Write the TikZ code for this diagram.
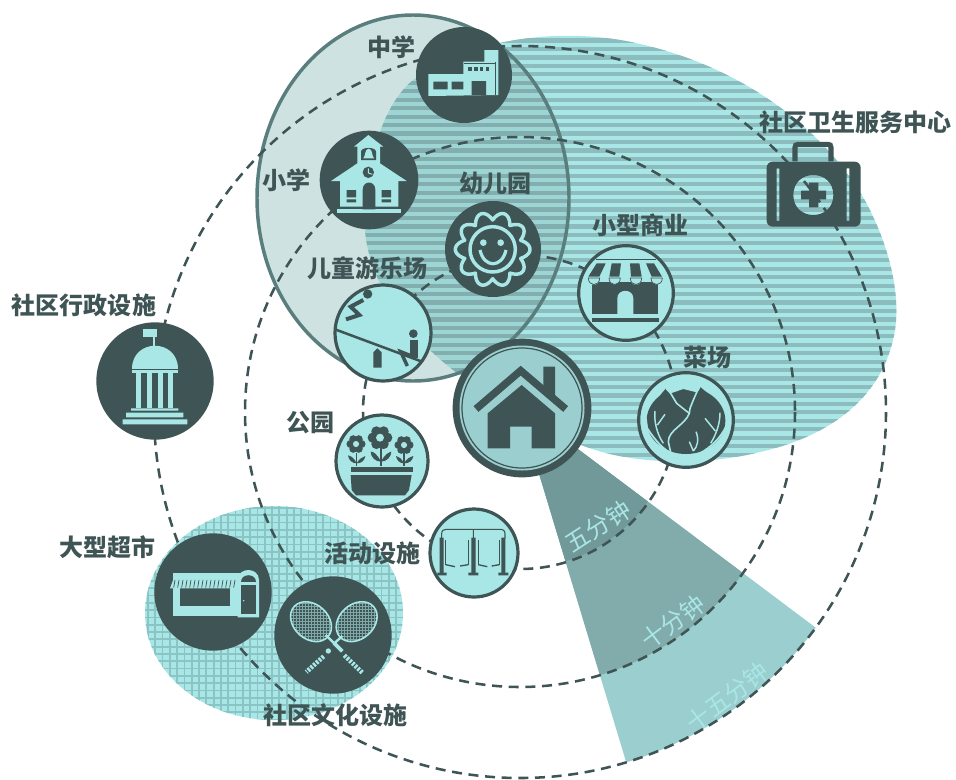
\documentclass[tikz,border=0pt]{standalone}
\usepackage{fontspec}
\newfontfamily\zh{Noto Sans CJK SC}
\definecolor{ink}{HTML}{3F5455}
\definecolor{lite}{HTML}{A9E6E6}
\definecolor{stripe}{HTML}{8CBCBD}
\definecolor{gridc}{HTML}{8AC4C4}
\definecolor{pale}{HTML}{CFE2E2}
\definecolor{ellline}{HTML}{5A7E7E}
\definecolor{homefill}{HTML}{9BCFCF}
\definecolor{wedgeA}{HTML}{72999A}
\definecolor{wedgeB}{HTML}{82ABAB}
\definecolor{wedgeC}{HTML}{9BCFCF}
\definecolor{strings}{HTML}{7FA8A8}
\tikzset{
  zoomat/.style 2 args={shift={(#1,#2)},x=.25pt,y=-.25pt},
  ring/.style={draw=ink,line width=1.9pt,dash pattern=on 7.5pt off 5pt},
  darkdisc/.style={circle,fill=ink,inner sep=0pt},
  litedisc/.style={circle,fill=lite,draw=ink,line width=2.4pt,inner sep=0pt},
  lab/.style={font=\zh\bfseries\fontsize{18}{20}\selectfont,text=ink,inner sep=0pt},
  wlab/.style={font=\zh\fontsize{18}{20}\selectfont,text=lite,inner sep=0pt},
}
\newcommand\flwr[3]{%
  \foreach \a in {0,60,...,300}{\fill[ink] (#1,#2) ++(\a:{#3*.62}) circle ({#3*.44});}
  \fill[lite] (#1,#2) circle ({#3*.34});
}
\def\blob{(417,77) .. controls (470,40) and (560,25) .. (640,44) .. controls (720,62) and (810,110) .. (863,197) .. controls (890,245) and (903,300) .. (893,340) .. controls (880,395) and (835,435) .. (760,452) .. controls (700,467) and (620,465) .. (570,440) -- (520,410) -- (457,373) .. controls (400,330) and (360,270) .. (365,210) .. controls (370,150) and (385,100) .. (417,77) -- cycle}
\begin{document}
\begin{tikzpicture}[x=.75pt,y=-.75pt]
\path[use as bounding box,clip] (0,0) rectangle (956,779);
\coordinate (hub) at (520,412);
% big ellipse
\fill[pale] (413,198) ellipse [x radius=156,y radius=183];
% striped area
\begin{scope}
  \clip \blob;
  \fill[lite] (340,20) rectangle (910,470);
  \foreach \i in {0,...,52}{\fill[stripe] (340,{30+8.45*\i}) rectangle (910,{34.2+8.45*\i});}
\end{scope}
\begin{scope}
  \clip (413,198) ellipse [x radius=156,y radius=183];
  \clip \blob;
  \fill[black,opacity=.07] (340,0) rectangle (910,470);
\end{scope}
\draw[ellline,line width=2.6pt] (413,198) ellipse [x radius=156,y radius=183];
% squared area
\begin{scope}
  \clip (274,613) ellipse [x radius=129,y radius=107];
  \fill[lite] (140,500) rectangle (410,725);
  \foreach \i in {0,...,37}{\fill[gridc] ({147+7.3*\i},500) rectangle ({148.8+7.3*\i},725);}
  \foreach \i in {0,...,30}{\fill[gridc] (140,{507+7.3*\i}) rectangle (410,{508.8+7.3*\i});}
\end{scope}
% wedge
\begin{scope}
  \clip (518,404) -- (650,841) -- (880,841) -- (880,676) -- cycle;
  \fill[wedgeC] (hub) circle (366);
  \fill[wedgeB] (hub) circle (275);
  \fill[wedgeA] (hub) circle (156);
\end{scope}
\node[wlab,rotate=33] (tFive) at (598,526) {五分钟};
\node[wlab,rotate=37] (tTen) at (673,622) {十分钟};
\node[wlab,rotate=37] (tFifteen) at (727,697) {十五分钟};
% rings
\draw[ring] (hub) circle (157);
\draw[ring] (hub) circle (275);
\draw[ring] (hub) circle (366);
% discs
\node[darkdisc,minimum size=72pt] (zhongxue) at (464,75) {};
\node[darkdisc,minimum size=74pt] (xiaoxue) at (369,180) {};
\node[darkdisc,minimum size=72pt] (youer) at (493,249) {};
\node[litedisc,minimum size=72pt] (ertong) at (383,333) {};
\node[litedisc,minimum size=69pt] (gongyuan) at (382,461) {};
\node[litedisc,minimum size=66pt] (huodong) at (474,553) {};
\node[litedisc,minimum size=71pt] (shangye) at (626,293) {};
\node[litedisc,minimum size=71pt] (caichang) at (686,420) {};
\node[darkdisc,minimum size=88pt] (xingzheng) at (155,381) {};
\node[darkdisc,minimum size=88pt] (chaoshi) at (213,592) {};
\node[darkdisc,minimum size=88pt] (wenhua) at (333,635) {};
\node[darkdisc,minimum size=104pt] (home) at (522,408) {};
\fill[homefill] (home.center) circle (62.5);
\draw[ink,line width=.9pt] (home.center) circle (60);
% home icon
\begin{scope}[zoomat={300}{200}]
  \fill[ink] (730,500) -- (765,500) -- (765,590) -- (730,555) -- cycle;
  \draw[ink,line width=5.6pt] (528,627) -- (662,512) -- (797,627);
  \fill[ink] (563,640) -- (665,555) -- (765,640) -- (765,745) -- (695,745) -- (695,680) -- (630,680) -- (630,745) -- (563,745) -- cycle;
\end{scope}
% middle school
\begin{scope}[zoomat={250}{0}]
  \fill[lite] (535,222) -- (640,222) -- (640,185) -- (703,185) -- (703,150) -- (745,150) -- (745,285) -- (535,288) -- cycle;
  \fill[ink] (550,245) rectangle (593,268) (605,245) rectangle (640,268) (665,243) rectangle (708,285);
  \foreach \x in {655,672,689,707}{\fill[ink] (\x,201) rectangle (\x+11,212);}
  \draw[ink,line width=.6pt] (737,185) -- (737,285) (642,190) -- (737,190);
  % primary school
  \fill[lite] (355,405) -- (400,440) -- (390,440) -- (390,490) -- (470,543) -- (445,543) -- (445,620) -- (270,620) -- (270,543) -- (243,543) -- (322,490) -- (322,440) -- (312,440) -- cycle;
  \fill[lite] (262,628) rectangle (452,640);
  \fill[ink] (333,480) -- (333,455) .. controls (333,440) and (378,440) .. (378,455) -- (378,480) -- cycle;
  \fill[lite] (340,475) .. controls (348,465) and (343,448) .. (356,446) .. controls (369,448) and (364,465) .. (372,475) -- cycle;
  \fill[ink] (355,517) circle (17);
  \draw[lite,line width=.7pt] (355,505) -- (355,519) -- (367,523);
  \fill[ink] (338,628) -- (338,570) .. controls (338,540) and (376,540) .. (376,570) -- (376,628) -- cycle;
  \fill[ink] (290,570) rectangle (318,592) (290,598) rectangle (318,607) (395,570) rectangle (423,592) (395,598) rectangle (423,607);
\end{scope}
% kindergarten, playground
\begin{scope}[zoomat={300}{200}]
  \draw[lite,line width=2.6pt,line join=round] plot[domain=0:360,samples=241] ({578+(88+24*abs(cos(5*\x)))*cos(\x)},{148+(88+24*abs(cos(5*\x)))*sin(\x)}) -- cycle;
  \draw[lite,line width=2.6pt] (578,148) circle (68);
  \fill[lite] (550,128) circle (10) (602,128) circle (10);
  \draw[lite,line width=2.4pt] (540,150) .. controls (552,205) and (606,205) .. (618,150);
  % seesaw
  \begin{scope}
    \clip (250,400) circle (146);
    \draw[ink,line width=1.9pt] (105,388) -- (385,492);
    \fill[ink] (220,503) -- (220,457) -- (232,445) -- (245,457) -- (245,503) -- cycle;
    \fill[ink] (340,401) circle (13);
    \fill[ink] (329,420) rectangle (353,475);
    \draw[ink,line width=2.6pt] (345,472) -- (302,455) -- (322,498);
    \fill[ink] (203,282) circle (14);
    \draw[ink,line width=3pt,line join=miter] (190,300) -- (152,320) -- (178,345) -- (138,358);
  \end{scope}
\end{scope}
% park, swings
\begin{scope}[zoomat={330}{410}]
  \flwr{78}{102}{27}
  \flwr{150}{83}{35}
  \flwr{222}{105}{27}
  \draw[ink,line width=1.2pt] (80,128) -- (80,168) (153,110) -- (153,168) (222,130) -- (222,168);
  \fill[ink] (153,155) .. controls (140,130) and (130,125) .. (122,125) .. controls (122,140) and (135,155) .. (153,155);
  \fill[ink] (153,155) .. controls (166,130) and (176,128) .. (184,125) .. controls (184,140) and (170,155) .. (153,155);
  \fill[ink] (80,160) .. controls (72,142) and (62,138) .. (54,136) .. controls (56,150) and (66,160) .. (80,160);
  \fill[ink] (80,160) .. controls (88,146) and (96,142) .. (106,138) .. controls (104,152) and (94,160) .. (80,160);
  \fill[ink] (222,160) .. controls (214,144) and (206,140) .. (198,138) .. controls (200,152) and (210,160) .. (222,160);
  \fill[ink] (222,160) .. controls (230,146) and (238,142) .. (250,138) .. controls (248,152) and (238,160) .. (222,160);
  \fill[ink] (62,170) rectangle (248,186);
  \fill[ink] (62,195) -- (245,195) -- (237,240) -- (225,256) -- (78,256) -- (65,240) -- cycle;
  % swings
  \draw[ink,line width=.8pt] (335,385) -- (335,372) .. controls (335,362) and (340,358) .. (348,358) -- (510,358) .. controls (520,358) and (525,362) .. (525,372) -- (525,385) (430,358) -- (430,385);
  \fill[ink] (329,383) rectangle (341,490) (424,383) rectangle (437,490) (514,383) rectangle (526,490);
  \fill[ink] (322,488) rectangle (350,496) (415,488) rectangle (445,496) (505,488) rectangle (535,496);
  \draw[ink,line width=.5pt] (347,390) -- (347,465) (415,390) -- (415,465) (445,390) -- (445,465) (508,390) -- (508,465);
  \draw[ink,line width=1pt] (347,464) -- (375,470) (390,468) -- (415,464) (445,464) -- (472,470) (485,468) -- (508,464);
\end{scope}
% shop, kit
\begin{scope}[zoomat={570}{90}]
  \draw[ink,line width=.7pt] (78,508) -- (258,508);
  \fill[ink] (80,520) -- (107,520) -- (88,560) -- (55,560) -- cycle;
  \fill[ink] (125,520) -- (153,520) -- (148,560) -- (118,560) -- cycle;
  \fill[ink] (180,520) -- (208,520) -- (215,560) -- (183,560) -- cycle;
  \fill[ink] (228,520) -- (252,520) -- (276,560) -- (245,560) -- cycle;
  \fill[ink] (65,575) rectangle (265,672);
  \foreach \x in {72,134,198,260}{
    \filldraw[fill=lite,draw=ink,line width=.5pt] (\x-17,564) .. controls (\x-17,590) and (\x+17,590) .. (\x+17,564) -- cycle;}
  \fill[lite] (142,672) -- (142,625) .. controls (142,595) and (190,595) .. (190,625) -- (190,672) -- cycle;
  \fill[ink] (65,683) rectangle (268,695);
  % kit
  \draw[ink,line width=3.8pt] (675,214) -- (675,172) .. controls (675,166) and (678,163) .. (684,163) -- (774,163) .. controls (780,163) and (783,166) .. (783,172) -- (783,214);
  \fill[ink,even odd rule] [rounded corners=4.5pt] (590,215) rectangle (872,410) [sharp corners] (790,315) .. controls (790,395) and (670,395) .. (670,315) .. controls (670,235) and (790,235) .. (790,315) -- cycle (620,235) rectangle (628,392) (830,235) rectangle (838,392);
  \fill[ink] (717,278) rectangle (745,352) (693,302) rectangle (768,328);
\end{scope}
% cabbage
\begin{scope}[zoomat={640}{375}]
  \fill[ink] (138,137) ellipse [x radius=118,y radius=100];
  \fill[ink] (40,85) -- (78,40) -- (100,70) -- cycle (180,35) -- (238,85) -- (155,70) -- cycle;
  \fill[lite] (78,40) -- (92,55) -- (130,42) -- (170,52) -- (180,35) -- (160,20) -- (90,20) -- cycle;
  \draw[lite,line width=1.2pt,line join=round] (78,40) -- (92,55) -- (110,85) -- (135,105) -- (148,115) .. controls (135,150) and (85,165) .. (85,200) -- (92,232);
  \draw[lite,line width=1.2pt,line join=round] (180,35) -- (170,52) -- (160,75) -- (150,100) -- (148,115);
  \draw[lite,line width=1.3pt] (98,236) .. controls (70,225) and (45,195) .. (22,160);
  \draw[lite,line width=1.1pt] (45,108) .. controls (42,140) and (50,175) .. (70,205) (75,118) -- (52,150) (18,130) -- (22,160);
  \draw[lite,line width=1.3pt] (178,236) .. controls (215,215) and (240,190) .. (258,155);
  \draw[lite,line width=1.1pt] (240,113) .. controls (240,145) and (230,175) .. (212,205) (195,130) -- (226,168) (168,170) .. controls (178,195) and (172,215) .. (160,228) (148,200) -- (160,228);
\end{scope}
% government
\begin{scope}[zoomat={0}{280}]
  \fill[lite] (430,148) rectangle (472,172);
  \fill[lite] (460,172) rectangle (466,198);
  \fill[lite] (395,266) .. controls (395,175) and (535,175) .. (535,266) -- cycle;
  \fill[lite] (395,270) rectangle (535,278);
  \foreach \x in {408,440,473,505}{\fill[lite] (\x,278) rectangle (\x+15,385);}
  \fill[lite] (393,385) rectangle (535,392) (378,398) rectangle (550,412) (368,418) rectangle (562,433);
\end{scope}
% supermarket
\begin{scope}[zoomat={130}{490}]
  \fill[lite] (130,250) rectangle (330,378);
  \fill[ink] (150,295) rectangle (300,348);
  \fill[lite] (120,295) -- (130,268) -- (325,268) -- (322,295) -- cycle;
  \foreach \x in {135,147,...,315}{\draw[ink,line width=.55pt] (\x,270) -- (\x-4,293);}
  \fill[lite] (323,382) -- (323,270) .. controls (323,230) and (387,230) .. (387,270) -- (387,382) -- cycle;
  \fill[ink] (333,285) rectangle (377,373);
  \fill[ink] (333,276) .. controls (333,248) and (377,248) .. (377,276) -- cycle;
  \fill[lite] (341,332) circle (2.5);
\end{scope}
% rackets
\begin{scope}[zoomat={285}{590}]
  \foreach \cx/\cy/\rot in {78/95/-42,215/95/42}{
    \begin{scope}
      \clip[rotate around={\rot:(\cx,\cy)}] (\cx,\cy) ellipse [x radius=68,y radius=52];
      \foreach \d in {-72,-63,...,72}{\draw[strings,line width=.45pt] (\cx+\d,\cy-75) -- (\cx+\d,\cy+75) (\cx-75,\cy+\d) -- (\cx+75,\cy+\d);}
    \end{scope}
    \draw[lite,line width=1.2pt,rotate around={\rot:(\cx,\cy)}] (\cx,\cy) ellipse [x radius=68,y radius=52];
  }
  \draw[lite,line width=1.8pt] (122,135) -- (148,160);
  \draw[lite,line width=2.8pt] (146,158) -- (172,184);
  \draw[lite,line width=1.8pt] (172,138) -- (150,158);
  \fill[lite] (130,183) circle (8);
  \draw[lite,line width=3.4pt,dash pattern=on 1.8pt off 1pt] (178,196) -- (232,248);
  \draw[lite,line width=3.4pt,dash pattern=on 1.8pt off 1pt] (116,199) -- (64,246);
\end{scope}
% labels
\node[lab] (lZhongxue) at (391,47) {中学};
\node[lab] (lXiaoxue) at (286,180) {小学};
\node[lab] (lYouer) at (495,183) {幼儿园};
\node[lab] (lErtong) at (367,268) {儿童游乐场};
\node[lab] (lShangye) at (640,225) {小型商业};
\node[lab] (lCai) at (707,357) {菜场};
\node[lab] (lWeisheng) at (855,122) {社区卫生服务中心};
\node[lab] (lXingzheng) at (84,305) {社区行政设施};
\node[lab] (lGongyuan) at (310,423) {公园};
\node[lab] (lChaoshi) at (107,547) {大型超市};
\node[lab] (lHuodong) at (372,553) {活动设施};
\node[lab] (lWenhua) at (335,715) {社区文化设施};
\end{tikzpicture}
\end{document}
